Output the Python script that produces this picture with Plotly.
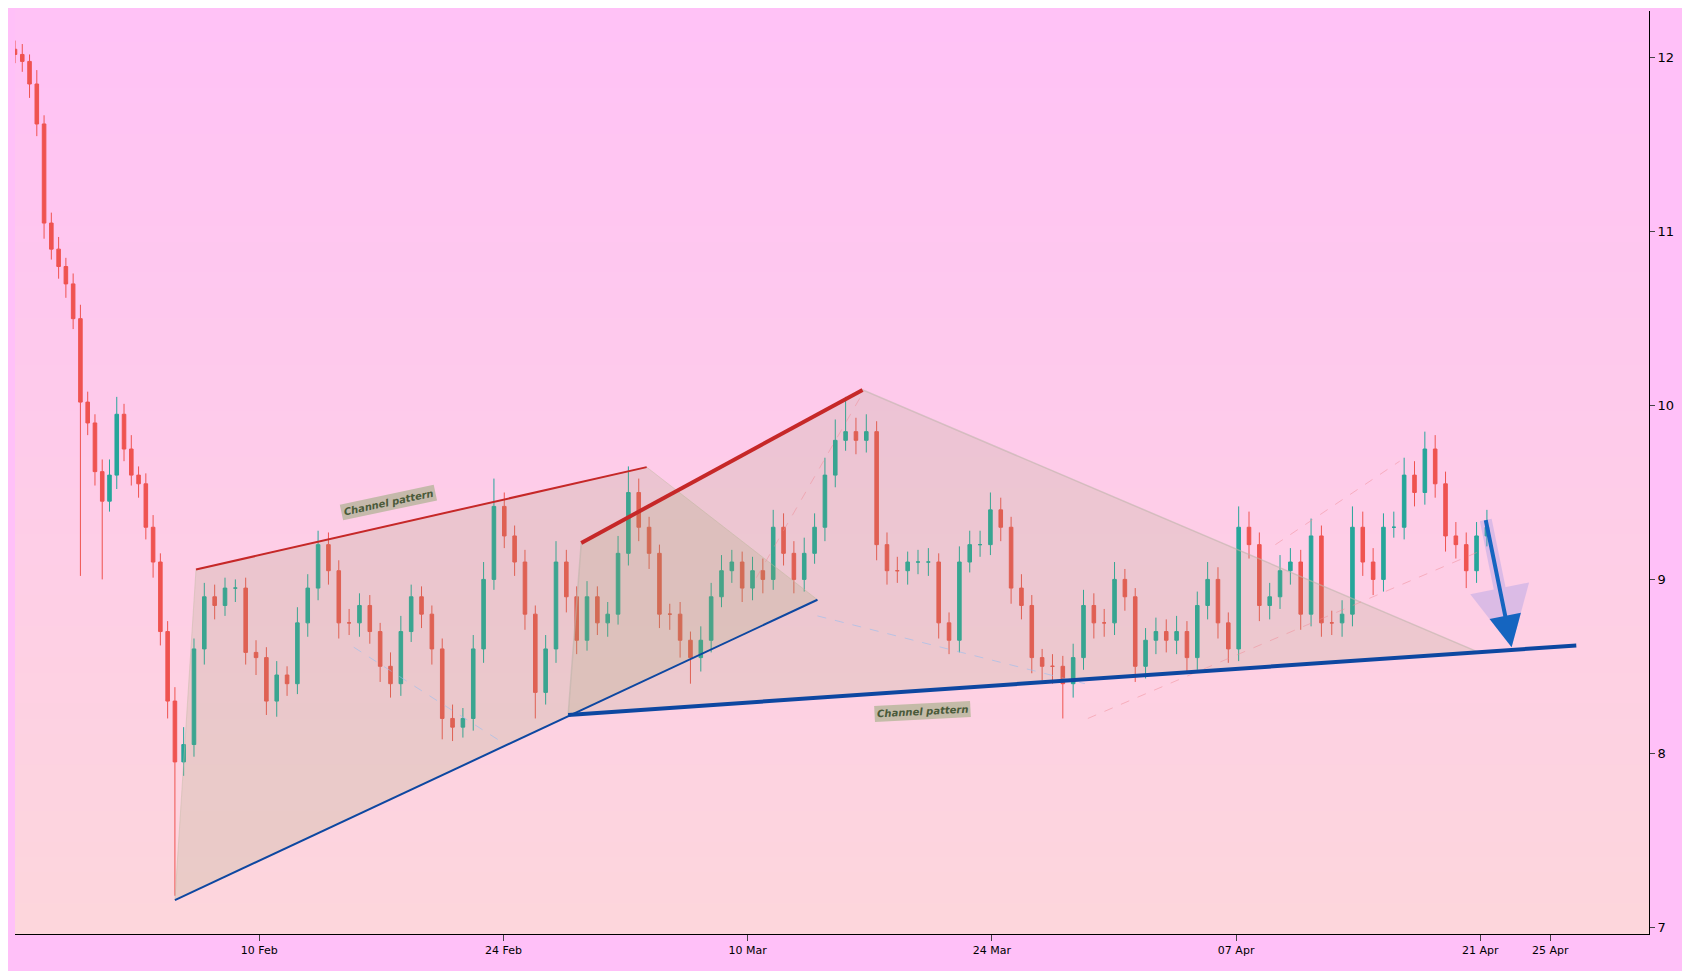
import pandas as pd
import plotly.graph_objects as go

# candle closes: first 23 candles cover the 27 Jan - 5 Feb sell-off, the rest run to 21 Apr
closes = [12.02, 11.98, 11.85, 11.62, 11.05, 10.9, 10.8, 10.7, 10.5, 10.02,
          9.9, 9.62, 9.45, 9.6, 9.95, 9.75, 9.6, 9.55, 9.3, 9.1,
          8.7, 8.3, 7.95, 8.05, 8.6, 8.9, 8.85, 8.95, 8.95, 8.58,
          8.55, 8.3, 8.45, 8.4, 8.75, 8.95, 9.2, 9.05, 8.75, 8.75,
          8.85, 8.7, 8.5, 8.4, 8.7, 8.9, 8.8, 8.6, 8.2, 8.15,
          8.2, 8.6, 9.0, 9.42, 9.25, 9.1, 8.8, 8.35, 8.6, 9.1,
          8.9, 8.65, 8.9, 8.75, 8.8, 9.15, 9.5, 9.3, 9.15, 8.8,
          8.8, 8.65, 8.55, 8.65, 8.9, 9.05, 9.1, 8.95, 9.05, 9.0,
          9.3, 9.15, 9.0, 9.15, 9.3, 9.6, 9.8, 9.85, 9.8, 9.85,
          9.2, 9.05, 9.05, 9.1, 9.1, 9.1, 8.75, 8.65, 9.1, 9.2,
          9.2, 9.4, 9.3, 8.95, 8.85, 8.55, 8.5, 8.5, 8.4, 8.55,
          8.85, 8.75, 8.75, 9.0, 8.9, 8.5, 8.65, 8.7, 8.65, 8.7,
          8.55, 8.85, 9.0, 8.75, 8.6, 9.3, 9.2, 8.85, 8.9, 9.05,
          9.1, 8.8, 9.25, 8.75, 8.75, 8.8, 9.3, 9.1, 9.0, 9.3,
          9.3, 9.6, 9.5, 9.75, 9.55, 9.25, 9.2, 9.05, 9.25, 9.3]

# wick lengths in hundredths
wick_up = [5, 6, 4, 8, 5, 6, 7, 5, 6, 8,
           6, 5, 7, 9, 10, 6, 8, 5, 6, 7,
           5, 6, 8, 10, 6, 8, 7, 6, 5, 6,
           7, 6, 8, 5, 9, 8, 8, 7, 6, 8,
           7, 6, 5, 8, 9, 7, 6, 5, 6, 8,
           6, 8, 10, 16, 8, 6, 7, 5, 8, 12,
           7, 6, 9, 6, 7, 10, 15, 8, 6, 5,
           6, 7, 5, 8, 8, 9, 7, 6, 8, 7,
           10, 8, 7, 9, 8, 10, 12, 20, 8, 10,
           6, 7, 8, 6, 7, 8, 5, 6, 9, 8,
           8, 10, 7, 6, 8, 6, 5, 7, 6, 8,
           9, 7, 8, 10, 6, 5, 7, 8, 7, 9,
           6, 8, 10, 7, 6, 12, 9, 7, 8, 9,
           8, 7, 10, 6, 7, 8, 12, 9, 8, 8,
           9, 10, 8, 10, 8, 7, 8, 7, 8, 10]
wick_dn = [5, 6, 8, 7, 9, 6, 7, 8, 6, 100,
           7, 8, 45, 6, 8, 7, 6, 8, 7, 9,
           8, 10, 77, 8, 7, 9, 8, 6, 8, 7,
           10, 8, 9, 7, 6, 8, 7, 8, 9, 7,
           8, 7, 9, 8, 7, 6, 8, 9, 12, 8,
           6, 7, 8, 6, 7, 8, 9, 15, 7, 8,
           9, 8, 6, 7, 8, 6, 7, 8, 9, 8,
           9, 10, 15, 8, 7, 6, 7, 8, 7, 8,
           6, 7, 8, 7, 6, 8, 7, 6, 8, 7,
           9, 8, 7, 8, 7, 8, 9, 8, 7, 6,
           7, 6, 8, 9, 8, 9, 8, 10, 20, 8,
           7, 9, 8, 7, 8, 9, 7, 8, 7, 8,
           9, 7, 8, 9, 8, 7, 8, 9, 8, 7,
           8, 9, 7, 8, 7, 8, 7, 8, 9, 7,
           6, 7, 8, 7, 8, 9, 8, 10, 7, 6]

first_open = 12.05
selloff_candles = 23
selloff_span = ("2025-01-27 00:00", "2025-02-05 04:00")
range_span = ("2025-02-05 16:00", "2025-04-21 09:00")

# pattern anchor points (date, price)
fill1_x = ["2025-02-05 04:00", "2025-02-06 09:00", "2025-03-04 05:00", "2025-03-14 00:00"]
fill1_y = [7.155, 9.057, 9.646, 8.883]
fill2_x = ["2025-02-27 17:00", "2025-02-28 11:00", "2025-03-16 14:00", "2025-04-20 22:00"]
fill2_y = [8.22, 9.21, 10.09, 8.58]
support_x = ["2025-02-27 17:00", "2025-04-26 12:00"]
support_y = [8.22, 8.62]
dash_blue = [(["2025-02-15 10:00", "2025-02-24 03:00"], [8.61, 8.05]),
             (["2025-03-14 00:00", "2025-03-29 08:00"], [8.79, 8.40])]
dash_pink = [(["2025-03-10 12:00", "2025-03-16 14:00"], [9.01, 10.07]),
             (["2025-04-09 06:00", "2025-04-16 09:00"], [9.2, 9.68]),
             (["2025-03-29 12:00", "2025-04-20 22:00"], [8.2, 9.16])]
arrow_from = ("2025-04-21 07:00", 9.35)
arrow_to = ("2025-04-22 19:00", 8.61)

tick_vals = ["2025-02-10", "2025-02-24", "2025-03-10", "2025-03-24",
             "2025-04-07", "2025-04-21", "2025-04-25"]
tick_text = ["10 Feb", "24 Feb", "10 Mar", "24 Mar", "07 Apr", "21 Apr", "25 Apr"]

times = list(pd.date_range(*selloff_span, periods=selloff_candles)) + \
    list(pd.date_range(*range_span, periods=len(closes) - selloff_candles))
times = [t.strftime("%Y-%m-%d %H:%M") for t in times]
opens = [first_open] + closes[:-1]
highs = [max(o, c) + w / 100 for o, c, w in zip(opens, closes, wick_up)]
lows = [min(o, c) - w / 100 for o, c, w in zip(opens, closes, wick_dn)]

x_lo, x_hi = "2025-01-27 00:00", "2025-04-30 16:00"
y_lo, y_hi = 6.96, 12.27

fig = go.Figure()

# vertical gradient background as thin bands under everything
top_rgb, bot_rgb = (255, 194, 246), (253, 214, 220)
bands = 60
for i in range(bands):
    t = i / (bands - 1)
    col = tuple(round(b + (a - b) * t) for a, b in zip(top_rgb, bot_rgb))
    fig.add_shape(type="rect", xref="paper", yref="paper", layer="below",
                  x0=0, x1=1, y0=i / bands, y1=(i + 1) / bands + 0.002,
                  fillcolor="rgb(%d,%d,%d)" % col, line_width=0)

fig.add_trace(go.Candlestick(x=times, open=opens, high=highs, low=lows, close=closes,
                             increasing=dict(line=dict(color="#26a69a", width=1), fillcolor="#26a69a"),
                             decreasing=dict(line=dict(color="#ef5350", width=1), fillcolor="#ef5350"),
                             whiskerwidth=0))

fig.add_trace(go.Scatter(x=fill1_x, y=fill1_y, fill="toself", mode="lines",
                         line=dict(color="rgba(200,190,170,0.5)", width=1),
                         fillcolor="rgba(150,160,100,0.18)", hoverinfo="skip"))
fig.add_trace(go.Scatter(x=fill2_x, y=fill2_y, fill="toself", mode="lines",
                         line=dict(color="rgba(190,180,170,0.6)", width=1.5),
                         fillcolor="rgba(150,160,100,0.16)", hoverinfo="skip"))

for xs, ys in dash_blue:
    fig.add_trace(go.Scatter(x=xs, y=ys, mode="lines", hoverinfo="skip",
                             line=dict(color="rgba(150,190,240,0.6)", width=1, dash="dash")))
for xs, ys in dash_pink:
    fig.add_trace(go.Scatter(x=xs, y=ys, mode="lines", hoverinfo="skip",
                             line=dict(color="rgba(240,140,150,0.5)", width=1, dash="dash")))

# trend lines
fig.add_trace(go.Scatter(x=fill1_x[1:3], y=fill1_y[1:3], mode="lines",
                         line=dict(color="#c62828", width=2)))
fig.add_trace(go.Scatter(x=[fill1_x[0], fill1_x[3]], y=[fill1_y[0], fill1_y[3]], mode="lines",
                         line=dict(color="#0d47a1", width=2)))
fig.add_trace(go.Scatter(x=fill2_x[1:3], y=fill2_y[1:3], mode="lines",
                         line=dict(color="#c62828", width=4)))
fig.add_trace(go.Scatter(x=support_x, y=support_y, mode="lines",
                         line=dict(color="#0d47a1", width=4)))

label_style = dict(showarrow=False, font=dict(family="DejaVu Sans", size=10, color="#4a5a3a",
                                               style="italic", weight="bold"),
                   bgcolor="rgba(150,170,120,0.55)", borderpad=2)
fig.add_annotation(x="2025-02-17 10:00", y=9.44, text="Channel pattern", textangle=-12, **label_style)
fig.add_annotation(x="2025-03-20 00:00", y=8.24, text="Channel pattern", textangle=-3, **label_style)

# forecast arrow with soft halo
fig.add_annotation(x=arrow_to[0], y=arrow_to[1], ax=arrow_from[0], ay=arrow_from[1],
                   xref="x", yref="y", axref="x", ayref="y", text="",
                   arrowcolor="rgba(100,120,230,0.22)", arrowwidth=12, arrowhead=2, arrowsize=1)
fig.add_annotation(x=arrow_to[0], y=arrow_to[1], ax=arrow_from[0], ay=arrow_from[1],
                   xref="x", yref="y", axref="x", ayref="y", text="",
                   arrowcolor="#1565c0", arrowwidth=4, arrowhead=2, arrowsize=1.6)

fig.update_layout(
    width=1690, height=971, showlegend=False,
    paper_bgcolor="#ffc0f8", plot_bgcolor="#ffc8ee",
    margin=dict(l=7, r=49, t=3, b=45),
    font=dict(family="DejaVu Sans", color="black"),
    xaxis=dict(range=[x_lo, x_hi], rangeslider=dict(visible=False), showgrid=False,
               tickvals=tick_vals, ticktext=tick_text, ticks="outside", ticklen=6,
               tickfont=dict(size=11), showline=True, linecolor="black", linewidth=1,
               zeroline=False),
    yaxis=dict(range=[y_lo, y_hi], side="right", showgrid=False, dtick=1,
               ticks="outside", ticklen=5, tickfont=dict(size=13),
               showline=True, linecolor="black", linewidth=1, zeroline=False),
)

fig.write_html("out.html")
